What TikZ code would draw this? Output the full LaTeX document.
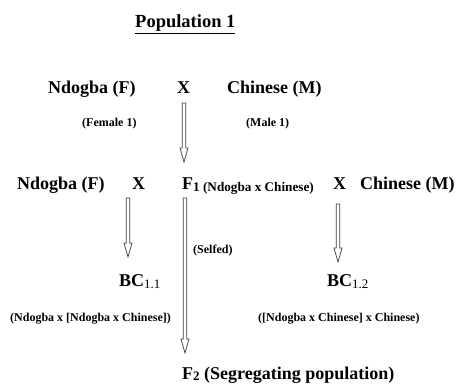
\documentclass[tikz,border=0pt]{standalone}
\usepackage{fontspec}
\setmainfont{Liberation Serif}
\usetikzlibrary{calc}
\tikzset{
  lbl/.style={anchor=base west, inner sep=0pt, font=\fontsize{18}{20}\selectfont\bfseries},
  sml/.style={anchor=base west, inner sep=0pt, font=\fontsize{12}{14}\selectfont\bfseries},
  harrow/.style={draw=black!75, line width=0.7pt, fill=white, line join=miter},
}
\newcommand\hollowarrow[2]{%
  \draw[harrow] let \p1=(#1), \p2=(#2) in
    (\x1-1.8pt,\y1) -- (\x1+1.8pt,\y1) -- (\x1+1.8pt,\y2+14pt) -- (\x1+4pt,\y2+14pt)
    -- (\x1,\y2) -- (\x1-4pt,\y2+14pt) -- (\x1-1.8pt,\y2+14pt) -- cycle;}
\newcommand\subsm[2][12]{{\fontsize{#1}{14}\selectfont\raisebox{-1.5pt}{#2}}}
\begin{document}
\begin{tikzpicture}[x=1pt,y=-1pt]
\useasboundingbox[fill=white] (0,0) rectangle (469,385);
% title
\node[anchor=base west, inner sep=0pt, font=\fontsize{18.5}{20}\selectfont\bfseries] (title) at (135,28) {\underline{Population 1}};
% row 1
\node[lbl] (n1) at (48,94) {Ndogba (F)};
\node[lbl] (x1) at (177,94) {X};
\node[lbl] (c1) at (227,94) {Chinese (M)};
\node[sml] (fem) at (82,127) {(Female 1)};
\node[sml] (male) at (246,127) {(Male 1)};
% row 2
\node[lbl] (n2) at (17,190) {Ndogba (F)};
\node[lbl] (x2) at (132,190) {X};
\node[lbl] (f1) at (182,190) {F\subsm[13.2]{1 (Ndogba x Chinese)}};
\node[lbl] (x3) at (333,190) {X};
\node[lbl] (c2) at (360,190) {Chinese (M)};
\node[sml] (self) at (193,254) {(Selfed)};
% backcrosses
\node[lbl] (bc1) at (119,287) {BC\subsm[13]{\mdseries 1.1}};
\node[lbl] (bc2) at (327,287) {BC\subsm[13]{\mdseries 1.2}};
\node[sml] (bcl1) at (10,321) {(Ndogba x [Ndogba x Chinese])};
\node[sml] (bcl2) at (258,321) {([Ndogba x Chinese] x Chinese)};
\node[lbl] (f2) at (182,379) {F\subsm[13]{2} (Segregating population)};
% arrow end points
\coordinate (a1s) at (184,103);
\coordinate (a1e) at (184,162);
\coordinate (a2s) at (128,198);
\coordinate (a2e) at (128,257);
\coordinate (a3s) at (185,198);
\coordinate (a3e) at (185,353);
\coordinate (a4s) at (338,204);
\coordinate (a4e) at (338,262);
\hollowarrow{a1s}{a1e}
\hollowarrow{a2s}{a2e}
\hollowarrow{a3s}{a3e}
\hollowarrow{a4s}{a4e}
\end{tikzpicture}
\end{document}
